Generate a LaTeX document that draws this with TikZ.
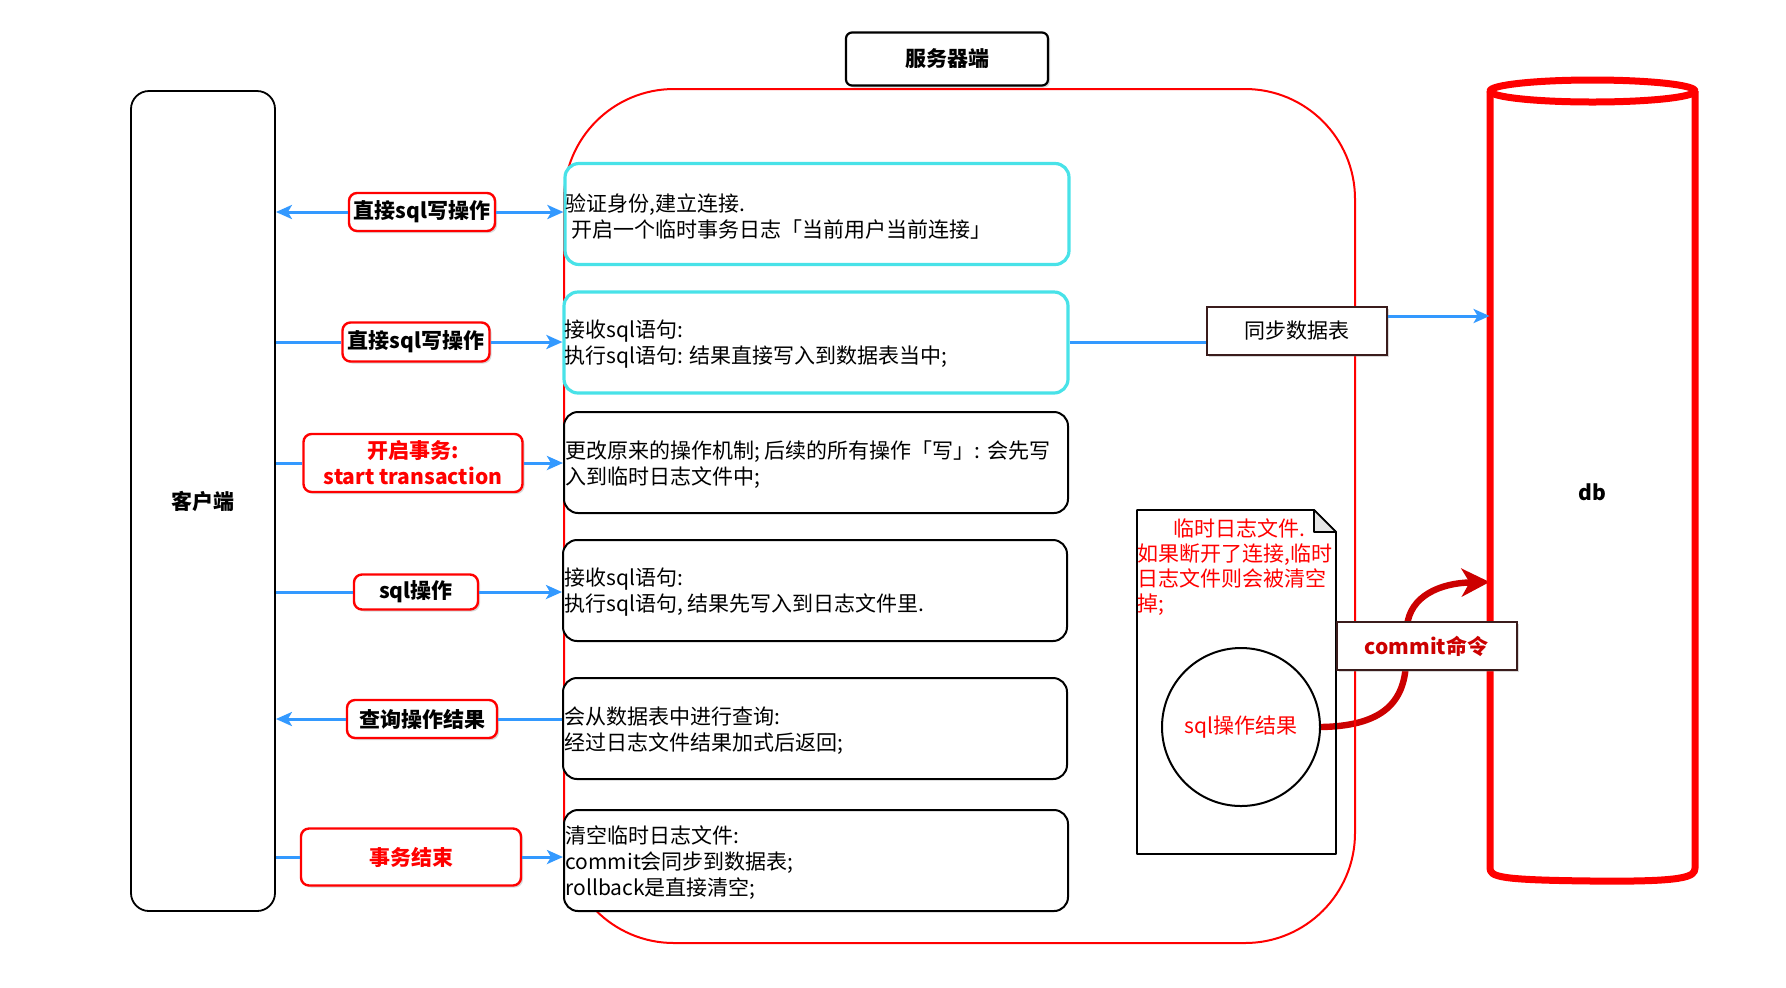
\documentclass[tikz,border=0pt]{standalone}
\usepackage{fontspec}
\setmainfont{Noto Sans CJK SC}
\usetikzlibrary{calc, positioning, arrows.meta, shadows, backgrounds}
\definecolor{FlowBlue}{RGB}{51, 153, 255}
\definecolor{StageCyan}{RGB}{72, 226, 232}
\definecolor{TagRed}{RGB}{255, 0, 0}
\definecolor{CommitRed}{RGB}{204, 0, 0}
\definecolor{EdgeBrown}{RGB}{58, 28, 28}

\begin{document}
\begin{tikzpicture}[
    x=0.5pt, y=-0.5pt,
    every node/.style={font=\fontsize{10.5pt}{13pt}\selectfont},
    side/.style={draw=black, line width=0.9pt, rounded corners=9pt, minimum width=72pt, minimum height=410pt, font=\fontsize{10.5pt}{13pt}\selectfont\bfseries},
    frame/.style={draw=TagRed, line width=1pt, rounded corners=55pt, minimum width=395.5pt, minimum height=427pt},
    tag/.style={draw=black, line width=1.1pt, rounded corners=3pt, fill=white, minimum width=101pt, minimum height=26.5pt, font=\fontsize{10.5pt}{13pt}\selectfont\bfseries, drop shadow={shadow xshift=1pt, shadow yshift=-1pt, opacity=0.3}},
    stage/.style={draw=black, line width=1pt, rounded corners=7pt, fill=white, minimum width=252pt, minimum height=50.5pt},
    stagecyan/.style={stage, draw=StageCyan, line width=1.6pt},
    stagetext/.style={anchor=west, align=left, inner sep=1pt},
    op/.style={draw=TagRed, line width=1.2pt, rounded corners=4pt, fill=white, inner sep=0pt, align=center, font=\fontsize{10.5pt}{13pt}\selectfont\bfseries, drop shadow={shadow xshift=1pt, shadow yshift=-1pt, opacity=0.3}},
    note/.style={draw=EdgeBrown, line width=1pt, fill=white, minimum width=90pt, minimum height=24pt, drop shadow={shadow xshift=1pt, shadow yshift=-1pt, opacity=0.3}},
    flow/.style={FlowBlue, line width=1.5pt},
    flowarrow/.style={flow, -{Stealth[length=8pt, width=7pt, inset=2pt]}},
    dbline/.style={TagRed, line width=3.5pt, line join=round},
    commitflow/.style={CommitRed, line width=3.2pt, -{Stealth[length=14pt, width=14pt, inset=4pt]}}
  ]
    \useasboundingbox (0,0) rectangle (1786,987);

    % Server frame and db
    \node [frame] (srv) at (959.5,516) {};
    \node [tag] (srvtag) at (947,59) {服务器端};
    \node [font=\fontsize{10.5pt}{13pt}\selectfont\bfseries, minimum width=102.5pt, minimum height=389pt] (db) at (1592.5,492) {db};
    \draw [dbline] (1592.5,91) ellipse [x radius=102.5, y radius=11];
    \draw [dbline] (1490,91) -- (1490,868) .. controls (1490,877) and (1500,880) .. (1592,881) .. controls (1685,882) and (1695,877) .. (1695,868) -- (1695,91);

    % Client
    \node [side] (client) at (203,501) {客户端};

    % Stages
    \node [stagecyan] (b1) at (817,214) {};
    \node [stagecyan] (b2) at (816,342.5) {};
    \node [stage] (b3) at (816,462.5) {};
    \node [stage] (b4) at (815,590.5) {};
    \node [stage] (b5) at (815,728.5) {};
    \node [stage] (b6) at (816,860.5) {};
    \node [stagetext] (t1) at ([yshift=-1pt]b1.west) {验证身份,建立连接.\\\hspace*{3pt}开启一个临时事务日志「当前用户当前连接」};
    \node [stagetext] (t2) at ([yshift=-1pt]b2.west) {接收sql语句:\\执行sql语句: 结果直接写入到数据表当中;};
    \node [stagetext] (t3) at ([yshift=-1pt]b3.west) {更改原来的操作机制; 后续的所有操作「写」: 会先写\\入到临时日志文件中;};
    \node [stagetext] (t4) at ([yshift=-1pt]b4.west) {接收sql语句:\\执行sql语句, 结果先写入到日志文件里.};
    \node [stagetext] (t5) at ([yshift=-1pt]b5.west) {会从数据表中进行查询:\\经过日志文件结果加式后返回;};
    \node [stagetext] (t6) at ([yshift=-1pt]b6.west) {清空临时日志文件:\\commit会同步到数据表;\\rollback是直接清空;};

    % Operations
    \node [op, minimum width=73pt, minimum height=19pt] (op1) at (422,212) {直接sql写操作};
    \node [op, minimum width=73.5pt, minimum height=19.5pt] (op2) at (416,342) {直接sql写操作};
    \node [op, minimum width=109.5pt, minimum height=29pt, text=TagRed] (op3) at (413,463) {开启事务:\\start transaction};
    \node [op, minimum width=62pt, minimum height=17.5pt] (op4) at (416,592) {sql操作};
    \node [op, minimum width=75pt, minimum height=19pt] (op5) at (422,719) {查询操作结果};
    \node [op, minimum width=110pt, minimum height=28.5pt, text=TagRed] (op6) at (411,857) {事务结束};

    % Temporary log file
    \draw [line width=0.9pt, line join=round] (1137,510) -- (1314,510) -- (1336,532) -- (1336,854) -- (1137,854) -- cycle;
    \draw [line width=0.8pt, fill=black!10, line join=round] (1314,510) -- (1314,532) -- (1336,532) -- cycle;
    \node [anchor=north west, align=left, inner sep=0pt, text=TagRed, font=\fontsize{10.5pt}{12.5pt}\selectfont] (logtxt) at (1137,518) {\hspace*{18pt}临时日志文件.\\如果断开了连接,临时\\日志文件则会被清空\\掉;};
    \node [circle, draw, line width=1pt, minimum size=79pt, text=TagRed] (res) at (1241,727) {sql操作结果};

    % Sync and commit
    \node [note] (sync) at (1297,331) {同步数据表};
    \node [note, text=CommitRed, font=\fontsize{10.5pt}{13pt}\selectfont\bfseries] (commit) at (1426.5,646) {commit命令};

    % Connections
    \draw [flowarrow] (op1.west) -- (client.east |- op1.west);
    \draw [flowarrow] (op1.east) -- (b1.west |- op1.east);
    \draw [flow] (client.east |- op2.west) -- (op2.west);
    \draw [flowarrow] (op2.east) -- (b2.west |- op2.east);
    \draw [flow] (client.east |- op3.west) -- (op3.west);
    \draw [flowarrow] (op3.east) -- (b3.west |- op3.east);
    \draw [flow] (client.east |- op4.west) -- (op4.west);
    \draw [flowarrow] (op4.east) -- (b4.west |- op4.east);
    \draw [flow] (b5.west |- op5.east) -- (op5.east);
    \draw [flowarrow] (op5.west) -- (client.east |- op5.west);
    \draw [flow] (client.east |- op6.west) -- (op6.west);
    \draw [flowarrow] (op6.east) -- (b6.west |- op6.east);

    \draw [flow] (b2.east) -- (sync.west |- b2.east);
    \draw [flowarrow] ($(sync.north east)+(0,10)$) -- (db.west |- {$(sync.north east)+(0,10)$});

    % Commit flow
    \begin{scope}[on background layer]
      \draw [commitflow] (res.east) .. controls (1378,726) and (1405,706) .. (1406,661) -- (1407,626) .. controls (1410,596) and (1440,583) .. ($(db.west)+(0,90)$);
    \end{scope}
\end{tikzpicture}
\end{document}
